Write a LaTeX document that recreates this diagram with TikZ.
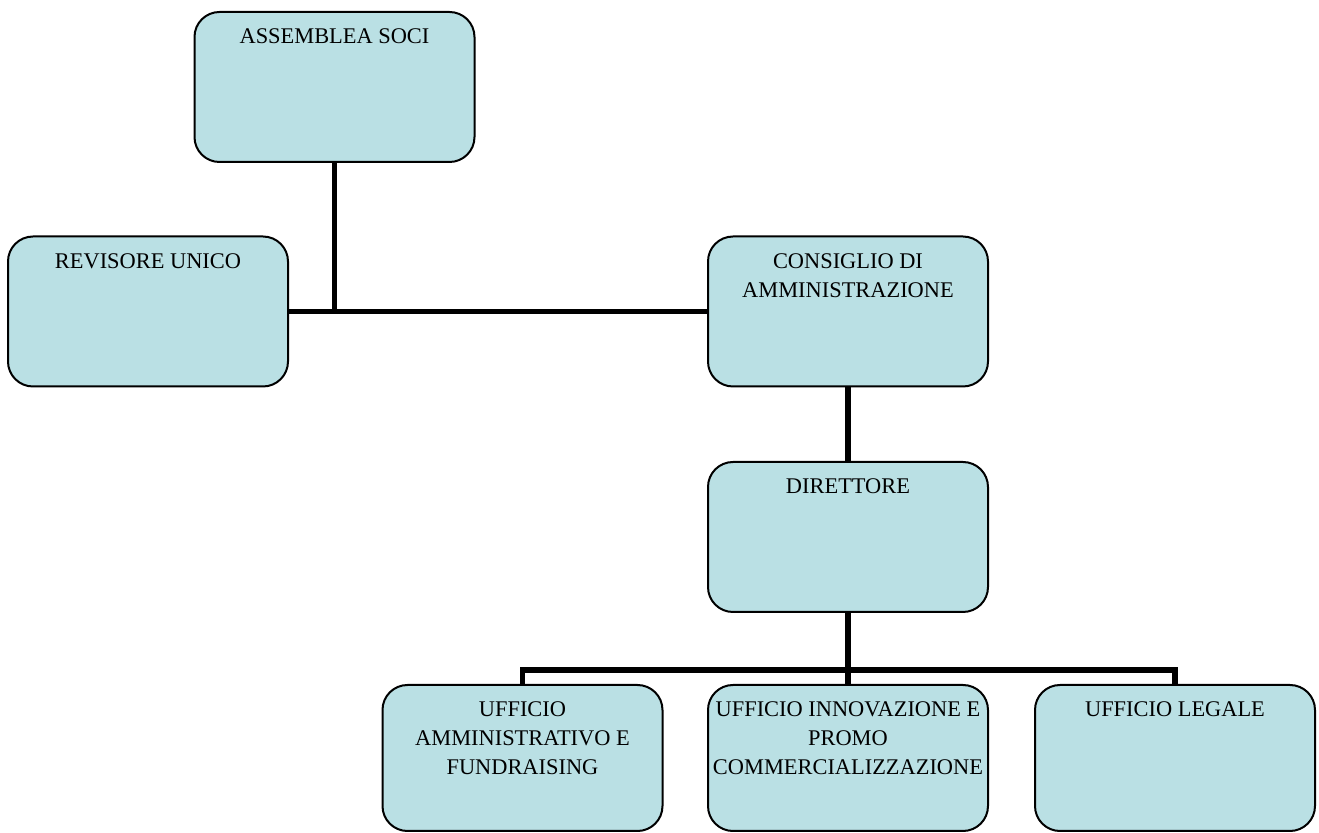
\documentclass[tikz,border=0pt]{standalone}
\usepackage{fontspec}
\setmainfont{Liberation Serif}
\usepackage{tikz}
\usetikzlibrary{positioning,calc}
\definecolor{boxblue}{RGB}{186,224,228}

\begin{document}
\begin{tikzpicture}[
        x=0.5pt, y=-0.5pt,
        every node/.style={font=\fontsize{11.2}{14.5}\selectfont},
        ente/.style={rectangle, draw=black, line width=1pt, fill=boxblue, rounded corners=12.5pt, minimum width=140pt, minimum height=75pt, inner sep=0pt},
        ufficio/.style={ente, minimum height=73pt},
        lbl/.style={align=center, inner sep=0pt},
        conn/.style={line width=2.6pt, draw=black},
    ]
        \useasboundingbox (0,0) rectangle (1319,833);

        \node[ente] (soci) at (334.5, 87) {};
        \node[ente] (revisore) at (148, 311.5) {};
        \node[ente] (consiglio) at (848, 311.5) {};
        \node[ente] (direttore) at (848, 537) {};
        \node[ufficio] (amm) at (522.5, 758) {};
        \node[ufficio] (innov) at (848, 758) {};
        \node[ufficio] (legale) at (1175, 758) {};

        \node[lbl, below=8.8pt of soci.north] (soci-t) {ASSEMBLEA SOCI};
        \node[lbl, below=8.8pt of revisore.north] (revisore-t) {REVISORE UNICO};
        \node[lbl, below=8.8pt of consiglio.north] (consiglio-t) {CONSIGLIO DI\\AMMINISTRAZIONE};
        \node[lbl, below=8.8pt of direttore.north] (direttore-t) {DIRETTORE};
        \node[lbl, below=8.8pt of amm.north] (amm-t) {UFFICIO\\AMMINISTRATIVO E\\FUNDRAISING};
        \node[lbl, below=8.8pt of innov.north] (innov-t) {UFFICIO INNOVAZIONE E\\PROMO\\COMMERCIALIZZAZIONE};
        \node[lbl, below=8.8pt of legale.north] (legale-t) {UFFICIO LEGALE};

        % collegamenti
        \coordinate (nodo) at (soci.south |- revisore.east);
        \coordinate (bus) at (848, 670);

        \draw[conn] (revisore.east) -- (consiglio.west);
        \draw[conn] (soci.south) -- (nodo);
        \draw[conn] (consiglio.south) -- (direttore.north);
        \draw[conn] (direttore.south) -- (innov.north);
        \draw[conn] (bus) -| (amm.north);
        \draw[conn] (bus) -| (legale.north);

    \end{tikzpicture}
\end{document}
